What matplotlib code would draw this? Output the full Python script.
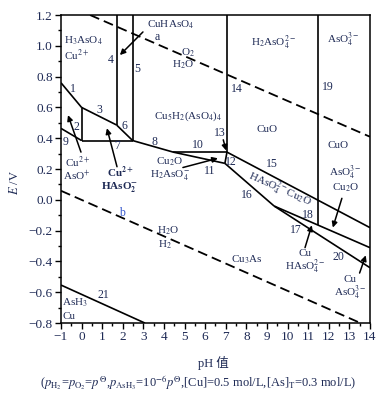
import matplotlib
matplotlib.use("Agg")
import matplotlib.pyplot as plt
from matplotlib.ticker import MultipleLocator

plt.rcParams['font.family'] = ['Liberation Serif', 'Noto Sans CJK SC']
plt.rcParams['mathtext.fontset'] = 'stix'
plt.rcParams['axes.unicode_minus'] = True

TXT = '#1e2a55'

# solid boundaries, numbered as in the figure (pH, E/V)
ph_1, e_1 = [-1, 0], [0.76, 0.60]
ph_2, e_2 = [0, 0], [0.60, 0.385]
ph_3, e_3 = [0, 1.70], [0.60, 0.486]
ph_4, e_4 = [1.70, 1.70], [0.486, 1.2]
ph_5, e_5 = [2.48, 2.48], [0.385, 1.2]
ph_6, e_6 = [1.70, 2.48], [0.486, 0.385]
ph_7, e_7 = [0, 2.48], [0.385, 0.385]
ph_8, e_8 = [2.48, 4.45], [0.385, 0.31]
ph_9, e_9 = [-1, 0], [0.464, 0.385]
ph_10, e_10 = [4.45, 7.06], [0.31, 0.31]
ph_11, e_11 = [4.45, 6.96], [0.31, 0.237]
ph_12, e_12 = [7.06, 6.96], [0.31, 0.237]
ph_13, e_13 = [7.06, 7.06], [0.31, 1.2]
ph_15, e_15 = [7.06, 14], [0.31, -0.18]
ph_16, e_16 = [6.96, 9.35], [0.237, -0.04]
ph_17, e_17 = [9.35, 14], [-0.04, -0.44]
ph_18, e_18 = [9.35, 14], [-0.04, -0.31]
ph_19, e_19 = [11.5, 11.5], [-0.165, 1.2]
ph_21, e_21 = [-1, 3.08], [-0.553, -0.8]

# water stability lines (dashed)
ph_a, e_a = [0.41, 14], [1.2, 0.41]
ph_b, e_b = [-1, 13.55], [0.059, -0.8]

solid = [(ph_1, e_1), (ph_2, e_2), (ph_3, e_3), (ph_4, e_4), (ph_5, e_5),
         (ph_6, e_6), (ph_7, e_7), (ph_8, e_8), (ph_9, e_9), (ph_10, e_10),
         (ph_11, e_11), (ph_12, e_12), (ph_13, e_13), (ph_15, e_15),
         (ph_16, e_16), (ph_17, e_17), (ph_18, e_18), (ph_19, e_19),
         (ph_21, e_21)]

fig = plt.figure(figsize=(3.91, 3.95), dpi=100)
ax = fig.add_axes([0.156, 0.182, 0.790, 0.780])

for ph, e in solid:
    ax.plot(ph, e, color='black', lw=1.2, solid_capstyle='butt')
for ph, e in [(ph_a, e_a), (ph_b, e_b)]:
    ax.plot(ph, e, color='black', lw=1.3, linestyle=(0, (5.5, 2.8)))

ax.set_xlim(-1, 14)
ax.set_ylim(-0.8, 1.2)
ax.xaxis.set_major_locator(MultipleLocator(1))
ax.xaxis.set_minor_locator(MultipleLocator(0.5))
ax.yaxis.set_major_locator(MultipleLocator(0.2))
ax.yaxis.set_minor_locator(MultipleLocator(0.1))
ax.tick_params(which='both', direction='out', colors='black',
               labelcolor=TXT, labelsize=9.5, width=1.0)
ax.tick_params(which='major', length=4, pad=2)
ax.tick_params(which='minor', length=2.5)
ax.yaxis.set_major_formatter(plt.FuncFormatter(
    lambda v, p: f"{v:.1f}".replace('-', '\u2212')))
for s in ax.spines.values():
    s.set_linewidth(1.1)


def lab(x, y, s, size=8, **kw):
    kw.setdefault('ha', 'center')
    kw.setdefault('va', 'center')
    kw.setdefault('color', TXT)
    ax.text(x, y, s, fontsize=size, **kw)


def arrow(x0, y0, x1, y1):
    ax.annotate('', xy=(x1, y1), xytext=(x0, y0),
                arrowprops=dict(arrowstyle='-|>', color='black', lw=1.1,
                                mutation_scale=8, shrinkA=0, shrinkB=0))


# region labels
lab(-0.85, 1.03, r'H$_3$AsO$_4$', ha='left')
lab(-0.85, 0.94, r'Cu$^{2+}$', ha='left')
lab(4.34, 1.135, r'CuHAsO$_4$')
lab(5.18, 0.955, r'O$_2$')
lab(4.95, 0.875, r'H$_2$O')
lab(5.17, 0.54, r'Cu$_5$H$_2$(AsO$_4$)$_4$')
lab(-0.22, 0.245, r'Cu$^{2+}$')
lab(-0.22, 0.155, r'AsO$^{+}$')
lab(1.86, 0.18, r'Cu$^{\mathbf{2+}}$', fontweight='bold')
lab(1.86, 0.083, r'HAsO$^{\mathbf{-}}_{\mathbf{2}}$', fontweight='bold')
lab(4.29, 0.245, r'Cu$_2$O')
lab(4.29, 0.16, r'H$_2$AsO$^{-}_{4}$')
lab(9.3, 1.02, r'H$_2$AsO$_4^{2-}$')
lab(12.7, 1.04, r'AsO$_4^{3-}$')
lab(9.0, 0.46, 'CuO')
lab(12.45, 0.35, 'CuO')
lab(12.8, 0.175, r'AsO$_4^{3-}$')
lab(12.8, 0.08, r'Cu$_2$O')
lab(9.63, 0.064, r'HAsO$_4^{2-}$Cu$_2$O', rotation=-24,
    rotation_mode='anchor')
lab(10.85, -0.345, 'Cu')
lab(10.85, -0.435, r'HAsO$_4^{2-}$')
lab(13.03, -0.52, 'Cu')
lab(13.03, -0.605, r'AsO$_4^{3-}$')
lab(8.03, -0.39, r'Cu$_3$As')
lab(4.2, -0.20, r'H$_2$O')
lab(4.05, -0.29, r'H$_2$')
lab(-0.95, -0.67, r'AsH$_3$', ha='left')
lab(-0.95, -0.755, 'Cu', ha='left')
lab(3.66, 1.055, 'a', size=8.5)
lab(1.96, -0.085, 'b', size=8.5, color='#3355cc')

# line numbers
for x, y, s in [(-0.4, 0.72, '1'), (-0.27, 0.47, '2'), (0.86, 0.585, '3'),
                (1.43, 0.91, '4'), (2.70, 0.85, '5'), (2.06, 0.48, '6'),
                (1.75, 0.35, '7'), (3.56, 0.375, '8'), (-0.76, 0.375, '9'),
                (5.66, 0.356, '10'), (6.23, 0.19, '11'), (7.27, 0.245, '12'),
                (6.72, 0.435, '13'), (7.54, 0.72, '14'), (9.24, 0.23, '15'),
                (8.03, 0.03, '16'), (10.4, -0.196, '17'), (11.0, -0.10, '18'),
                (11.96, 0.73, '19'), (12.45, -0.37, '20'), (1.04, -0.62, '21')]:
    lab(x, y, s, size=8.5)

# pointer arrows
arrow(2.98, 1.09, 1.86, 0.94)
arrow(-0.03, 0.31, -0.66, 0.55)
arrow(1.72, 0.215, 1.23, 0.465)
arrow(4.92, 0.21, 6.62, 0.27)
arrow(6.88, 0.39, 7.02, 0.32)
arrow(12.64, 0.01, 12.2, -0.18)
arrow(10.85, -0.31, 11.18, -0.165)
arrow(13.5, -0.475, 13.8, -0.36)

fig.text(0.038, 0.539, r'$E$ /V', rotation=90, ha='center', va='center',
         fontsize=9, color=TXT)
fig.text(0.545, 1 - 363 / 395, 'pH 值', ha='center', va='center',
         fontsize=9, color=TXT)
fig.text(0.507, 1 - 383 / 395,
         r'($p_{\mathrm{H_2}}$=$p_{\mathrm{O_2}}$=$p^{\Theta}$,'
         r'$p_{\mathrm{AsH_3}}$=10$^{-6}$$p^{\Theta}$,[Cu]=0.5 mol/L,'
         r'[As]$_{\mathrm{T}}$=0.3 mol/L)',
         ha='center', va='center', fontsize=9, color=TXT)

fig.savefig('out.png', dpi=100)
